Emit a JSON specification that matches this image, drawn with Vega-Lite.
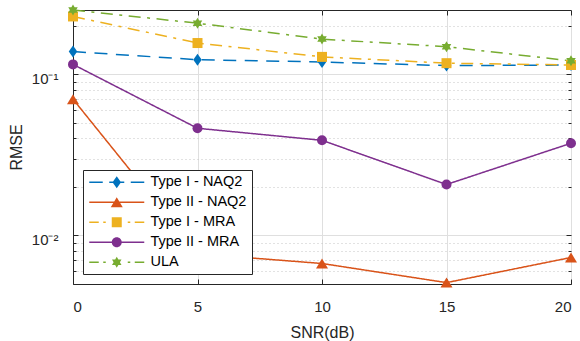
{
  "$schema": "https://vega.github.io/schema/vega-lite/v6.json",
  "autosize": "none",
  "width": 498,
  "height": 274,
  "padding": {"left": 73, "top": 10, "right": 9, "bottom": 57},
  "background": "white",
  "config": {
    "font": "Liberation Sans",
    "view": {"stroke": "#262626", "strokeWidth": 1},
    "axis": {
      "labelFont": "Liberation Sans",
      "titleFont": "Liberation Sans",
      "labelColor": "#262626",
      "titleColor": "#262626",
      "domainColor": "#262626",
      "tickColor": "#262626",
      "labelFontSize": 15,
      "titleFontSize": 16,
      "titleFontWeight": "normal"
    }
  },
  "data": {
    "values": [
      {"snr": 0, "rmse": 0.138, "series": "Type I - NAQ2"},
      {"snr": 5, "rmse": 0.123, "series": "Type I - NAQ2"},
      {"snr": 10, "rmse": 0.119, "series": "Type I - NAQ2"},
      {"snr": 15, "rmse": 0.113, "series": "Type I - NAQ2"},
      {"snr": 20, "rmse": 0.114, "series": "Type I - NAQ2"},
      {"snr": 0, "rmse": 0.070, "series": "Type II - NAQ2"},
      {"snr": 5, "rmse": 0.0077, "series": "Type II - NAQ2"},
      {"snr": 10, "rmse": 0.0067, "series": "Type II - NAQ2"},
      {"snr": 15, "rmse": 0.0051, "series": "Type II - NAQ2"},
      {"snr": 20, "rmse": 0.0073, "series": "Type II - NAQ2"},
      {"snr": 0, "rmse": 0.228, "series": "Type I - MRA"},
      {"snr": 5, "rmse": 0.156, "series": "Type I - MRA"},
      {"snr": 10, "rmse": 0.128, "series": "Type I - MRA"},
      {"snr": 15, "rmse": 0.117, "series": "Type I - MRA"},
      {"snr": 20, "rmse": 0.114, "series": "Type I - MRA"},
      {"snr": 0, "rmse": 0.115, "series": "Type II - MRA"},
      {"snr": 5, "rmse": 0.0462, "series": "Type II - MRA"},
      {"snr": 10, "rmse": 0.0389, "series": "Type II - MRA"},
      {"snr": 15, "rmse": 0.0207, "series": "Type II - MRA"},
      {"snr": 20, "rmse": 0.0373, "series": "Type II - MRA"},
      {"snr": 0, "rmse": 0.25, "series": "ULA"},
      {"snr": 5, "rmse": 0.207, "series": "ULA"},
      {"snr": 10, "rmse": 0.165, "series": "ULA"},
      {"snr": 15, "rmse": 0.148, "series": "ULA"},
      {"snr": 20, "rmse": 0.121, "series": "ULA"}
    ]
  },
  "resolve": {
    "axis": {"x": "independent", "y": "independent"},
    "scale": {"color": "independent", "shape": "independent"}
  },
  "layer": [
    {
      "mark": {"type": "line", "strokeWidth": 1.5, "strokeCap": "butt"},
      "encoding": {
        "x": {
          "field": "snr", "type": "quantitative",
          "scale": {"domain": [0, 20], "nice": false, "zero": false},
          "axis": {
            "values": [0, 5, 10, 15, 20],
            "title": "SNR(dB)",
            "grid": true, "gridColor": "#dfdfdf", "gridWidth": 1,
            "tickSize": -5, "labelPadding": 20, "titlePadding": 10
          }
        },
        "y": {
          "field": "rmse", "type": "quantitative",
          "scale": {"type": "log", "domain": [0.005, 0.25], "nice": false, "zero": false},
          "axis": {
            "values": [0.006, 0.007, 0.008, 0.009, 0.01, 0.02, 0.03, 0.04, 0.05, 0.06, 0.07, 0.08, 0.09, 0.1, 0.2],
            "labelExpr": "datum.value == 0.1 ? '10⁻¹' : (datum.value == 0.01 ? '10⁻²' : '')",
            "title": "RMSE",
            "grid": true,
            "gridColor": {"condition": {"test": "datum.value == 0.1 || datum.value == 0.01", "value": "#dfdfdf"}, "value": "#c4c4c4"},
            "gridDash": {"condition": {"test": "datum.value == 0.1 || datum.value == 0.01", "value": []}, "value": [1, 3]},
            "tickSize": {"condition": {"test": "datum.value == 0.1 || datum.value == 0.01", "value": -5}, "value": -3},
            "labelPadding": 20, "labelOffset": 4, "titlePadding": 7
          }
        },
        "color": {
          "field": "series", "type": "nominal",
          "scale": {
            "domain": ["Type I - NAQ2", "Type II - NAQ2", "Type I - MRA", "Type II - MRA", "ULA"],
            "range": ["#0072BD", "#D95319", "#EDB120", "#7E2F8E", "#77AC30"]
          },
          "legend": null
        },
        "strokeDash": {
          "field": "series", "type": "nominal",
          "scale": {
            "domain": ["Type I - NAQ2", "Type II - NAQ2", "Type I - MRA", "Type II - MRA", "ULA"],
            "range": [[13, 8.5], [1, 0], [12, 6.5, 3, 6.5], [1, 0], [12, 6.5, 3, 6.5]]
          },
          "legend": null
        }
      }
    },
    {
      "mark": {"type": "point", "filled": true, "size": 100, "opacity": 1, "strokeWidth": 0},
      "encoding": {
        "x": {
          "field": "snr", "type": "quantitative",
          "axis": {"orient": "top", "values": [0, 5, 10, 15, 20], "labels": false, "title": null, "grid": false, "domain": false, "tickSize": -5}
        },
        "y": {
          "field": "rmse", "type": "quantitative",
          "axis": {
            "orient": "right",
            "values": [0.006, 0.007, 0.008, 0.009, 0.01, 0.02, 0.03, 0.04, 0.05, 0.06, 0.07, 0.08, 0.09, 0.1, 0.2],
            "labels": false, "title": null, "grid": false, "domain": false,
            "tickSize": {"condition": {"test": "datum.value == 0.1 || datum.value == 0.01", "value": -5}, "value": -3}
          }
        },
        "color": {
          "field": "series", "type": "nominal",
          "scale": {
            "domain": ["Type I - NAQ2", "Type II - NAQ2", "Type I - MRA", "Type II - MRA", "ULA"],
            "range": ["#0072BD", "#D95319", "#EDB120", "#7E2F8E", "#77AC30"]
          },
          "legend": null
        },
        "shape": {
          "field": "series", "type": "nominal",
          "scale": {
            "domain": ["Type I - NAQ2", "Type II - NAQ2", "Type I - MRA", "Type II - MRA", "ULA"],
            "range": [
              "M0,-1.2L0.85,0L0,1.2L-0.85,0Z",
              "M0,-1L1.2,1L-1.2,1Z",
              "M-1,-1L1,-1L1,1L-1,1Z",
              "circle",
              "M0,-1.1L0.32,-0.55L0.95,-0.55L0.63,0L0.95,0.55L0.32,0.55L0,1.1L-0.32,0.55L-0.95,0.55L-0.63,0L-0.95,-0.55L-0.32,-0.55Z"
            ]
          },
          "legend": null
        }
      }
    },
    {
      "mark": {"type": "point", "filled": true, "size": 100, "opacity": 0, "strokeWidth": 0},
      "encoding": {
        "x": {"field": "snr", "type": "quantitative", "axis": null},
        "y": {"field": "rmse", "type": "quantitative", "axis": null},
        "color": {
          "field": "series", "type": "nominal",
          "scale": {
            "domain": ["Type I - NAQ2", "Type II - NAQ2", "Type I - MRA", "Type II - MRA", "ULA"],
            "range": ["#0072BD", "#D95319", "#EDB120", "#7E2F8E", "#77AC30"]
          },
          "legend": {
            "title": null, "orient": "bottom-left", "offset": 10,
            "fillColor": "white", "strokeColor": "#262626", "padding": 5,
            "labelFont": "Liberation Sans", "labelFontSize": 14.5, "labelColor": "#000000",
            "symbolSize": 100, "symbolStrokeWidth": 0, "symbolOpacity": 1,
            "symbolOffset": 21.5, "labelOffset": 26.5, "rowPadding": 5
          }
        },
        "shape": {
          "field": "series", "type": "nominal",
          "scale": {
            "domain": ["Type I - NAQ2", "Type II - NAQ2", "Type I - MRA", "Type II - MRA", "ULA"],
            "range": [
              "M-5.5,-0.15L-2.8,-0.15L-2.8,0.15L-5.5,0.15ZM-1.5,-0.15L1.5,-0.15L1.5,0.15L-1.5,0.15ZM2.8,-0.15L5.5,-0.15L5.5,0.15L2.8,0.15ZM0,-1.2L0.85,0L0,1.2L-0.85,0Z",
              "M-5.5,-0.15L5.5,-0.15L5.5,0.15L-5.5,0.15ZM0,-1L1.2,1L-1.2,1Z",
              "M-5.5,-0.15L-3.6,-0.15L-3.6,0.15L-5.5,0.15ZM-2.7,-0.15L-2.2,-0.15L-2.2,0.15L-2.7,0.15ZM2.2,-0.15L2.7,-0.15L2.7,0.15L2.2,0.15ZM3.6,-0.15L5.5,-0.15L5.5,0.15L3.6,0.15ZM-1,-1L1,-1L1,1L-1,1Z",
              "M-5.5,-0.15L5.5,-0.15L5.5,0.15L-5.5,0.15ZM1,0A1,1 0 1 1 -1,0A1,1 0 1 1 1,0Z",
              "M-5.5,-0.15L-3.6,-0.15L-3.6,0.15L-5.5,0.15ZM-2.7,-0.15L-2.2,-0.15L-2.2,0.15L-2.7,0.15ZM2.2,-0.15L2.7,-0.15L2.7,0.15L2.2,0.15ZM3.6,-0.15L5.5,-0.15L5.5,0.15L3.6,0.15ZM0,-1.1L0.32,-0.55L0.95,-0.55L0.63,0L0.95,0.55L0.32,0.55L0,1.1L-0.32,0.55L-0.95,0.55L-0.63,0L-0.95,-0.55L-0.32,-0.55Z"
            ]
          },
          "legend": {
            "title": null, "orient": "bottom-left", "offset": 10,
            "fillColor": "white", "strokeColor": "#262626", "padding": 5,
            "labelFont": "Liberation Sans", "labelFontSize": 14.5, "labelColor": "#000000",
            "symbolSize": 100, "symbolStrokeWidth": 0, "symbolOpacity": 1,
            "symbolOffset": 21.5, "labelOffset": 26.5, "rowPadding": 5
          }
        }
      }
    }
  ]
}
